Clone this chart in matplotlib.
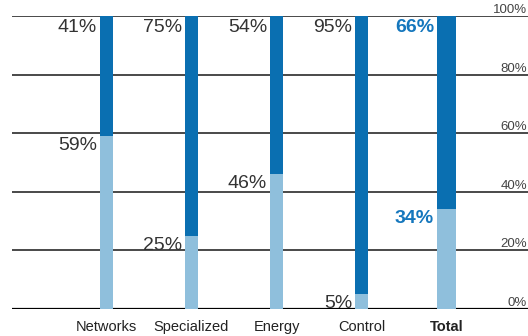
import numpy as np
import matplotlib.pyplot as plt
from matplotlib.transforms import offset_copy

plt.rcParams['font.family'] = ['Liberation Sans', 'DejaVu Sans']

categories = ["Networks", "Specialized", "Energy", "Control", "Total"]
lower = [59, 25, 46, 5, 34]      # light blue share
upper = [41, 75, 54, 95, 66]     # dark blue share
ticks = [0, 20, 40, 60, 80, 100]
tick_labels = ["0%", "20%", "40%", "60%", "80%", "100%"]

dark = "#0a6fb1"
light = "#8fbfdc"

fig = plt.figure(figsize=(5.28, 3.36), dpi=100)
ax = fig.add_axes([12 / 528, 27 / 336, 516 / 528, 293 / 336])

x = np.arange(len(categories))
widths = [0.153, 0.153, 0.153, 0.153, 0.224]

for t in ticks:
    ax.axhline(t, color="#000000" if t == 0 else "#3a3a3a",
               lw=1.6 if t == 0 else 1.3, zorder=1)

ax.bar(x, lower, width=widths, color=light, zorder=2)
ax.bar(x, upper, bottom=lower, width=widths, color=dark, zorder=2)

for i in range(len(categories)):
    total = i == len(categories) - 1
    col = "#1577bd" if total else "#333333"
    fw = "bold" if total else "normal"
    xl = x[i] - widths[i] / 2
    tr = offset_copy(ax.transData, fig=fig, x=-3, y=-3, units="dots")
    ax.text(xl, 100, f"{upper[i]}%", transform=tr, ha="right", va="top",
            fontsize=14, color=col, fontweight=fw)
    tr2 = offset_copy(ax.transData, fig=fig, x=-3, y=-1, units="dots")
    ax.text(xl, lower[i], f"{lower[i]}%", transform=tr2, ha="right", va="top",
            fontsize=14, color=col, fontweight=fw)

for t, lab in zip(ticks, tick_labels):
    ax.text(0.998, t, lab, transform=ax.get_yaxis_transform(), ha="right",
            va="bottom", fontsize=9.5, color="#444444")

ax.set_xlim(-1.112, 4.959)
ax.set_ylim(0, 100)
ax.set_xticks(x)
ax.set_xticklabels(categories, fontsize=10.5, color="#222222")
ax.get_xticklabels()[-1].set_fontweight("bold")
ax.tick_params(axis="x", length=0, pad=8)
ax.set_yticks([])
for s in ax.spines.values():
    s.set_visible(False)

fig.savefig("out.png", dpi=100)
